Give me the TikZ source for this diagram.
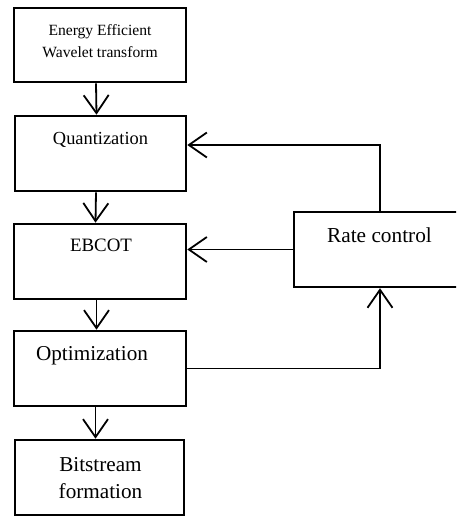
\documentclass[tikz,border=0pt]{standalone}
\usepackage{fontspec}
\setmainfont{Liberation Serif}
\newfontfamily\tnrfont{Liberation Serif}
\usetikzlibrary{arrows.meta}
\begin{document}
\begin{tikzpicture}[x=1pt,y=-1pt,
  box/.style={draw, line width=2.6pt, inner sep=0pt},
  rbox/.style={draw, line width=2.4pt, inner sep=0pt},
  lbl/.style={inner sep=0pt, align=center, text=black},
  arr/.style={line width=1.8pt, -{Straight Barb[length=18pt,width=25pt]}}]
\useasboundingbox (0,0) rectangle (456,516);
\begin{scope}
\clip (0,0) rectangle (456,516);
\node[box, minimum width=172pt, minimum height=74pt] (b1) at (100,45) {};
\node[box, minimum width=171pt, minimum height=75pt] (b2) at (100.5,153.5) {};
\node[box, minimum width=172pt, minimum height=75pt] (b3) at (100,261.5) {};
\node[box, minimum width=172pt, minimum height=75pt] (b4) at (100,368.5) {};
\node[box, minimum width=169pt, minimum height=75pt] (b5) at (99.5,477.5) {};
\node[rbox, minimum width=164pt, minimum height=75pt] (rate) at (376,249.5) {};

\node[lbl, font=\tnrfont\fontsize{15.6}{22}\selectfont] (t1) at (100,41) {Energy Efficient\\Wavelet transform};
\node[lbl, font=\tnrfont\fontsize{18.4}{22}\selectfont] (t2) at (100.5,140) {Quantization};
\node[lbl, font=\tnrfont\fontsize{18.9}{22}\selectfont] (t3) at (101,245) {EBCOT};
\node[lbl, font=\tnrfont\fontsize{21.2}{27}\selectfont] (t4) at (92,356) {Optimization};
\node[lbl, font=\tnrfont\fontsize{21.2}{27}\selectfont] (t5) at (100.5,478.5) {Bitstream\\formation};
\node[lbl, font=\tnrfont\fontsize{21.3}{27}\selectfont] (t6) at (379.5,235) {Rate control};

\draw[arr] ([xshift=-4pt]b1.south) -- ([xshift=-4pt]b2.north);
\draw[arr] ([xshift=-4.5pt]b2.south) -- ([xshift=-4.5pt]b3.north);
\draw[arr] ([xshift=-3.5pt]b3.south) -- ([xshift=-3.5pt]b4.north);
\draw[arr] ([xshift=-4.5pt]b4.south) -- ([xshift=-4pt]b5.north);

\draw[arr] ([xshift=4pt]rate.north) |- ([yshift=8.5pt]b2.east);
\draw[arr] (rate.west) -- (rate.west -| b3.east);
\draw[arr] (b4.east) -| ([xshift=4pt]rate.south);
\end{scope}
\end{tikzpicture}
\end{document}
